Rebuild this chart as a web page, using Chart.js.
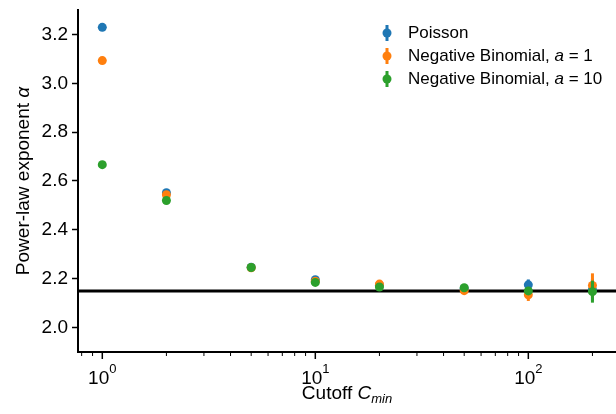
<!DOCTYPE html>
<html>
<head>
<meta charset="utf-8">
<script src="https://cdn.jsdelivr.net/npm/chart.js@4.4.1/dist/chart.umd.min.js"></script>
<style>
  html, body { margin: 0; padding: 0; background: #fff; }
  canvas { display: block; }
</style>
</head>
<body>
<canvas id="chart" width="616" height="414"></canvas>
<script>
// values
const cutoffs = [1, 2, 5, 10, 20, 50, 100, 200];
const poissonAlpha = [3.229, 2.552, 2.247, 2.196, 2.172, 2.160, 2.175, 2.155];
const poissonErr   = [0.004, 0.005, 0.004, 0.005, 0.006, 0.010, 0.022, 0.045];
const nb1Alpha     = [3.093, 2.544, 2.245, 2.190, 2.178, 2.151, 2.134, 2.172];
const nb1Err       = [0.004, 0.005, 0.005, 0.006, 0.007, 0.010, 0.025, 0.050];
const nb10Alpha    = [2.667, 2.520, 2.246, 2.185, 2.166, 2.163, 2.150, 2.147];
const nb10Err      = [0.004, 0.005, 0.005, 0.006, 0.007, 0.015, 0.015, 0.045];
const trueAlpha = 2.15;

const xRange = [0.769, 258];
const yRange = [1.9, 3.3];
const yTicks = [2.0, 2.2, 2.4, 2.6, 2.8, 3.0, 3.2];
const xTicks = [0.8, 0.9, 1, 2, 3, 4, 5, 6, 7, 8, 9, 10, 20, 30, 40, 50, 60, 70, 80, 90, 100, 200];

const seriesNames = ['Poisson', 'Negative Binomial, ', 'Negative Binomial, '];
const seriesParam = [null, '1', '10'];
const colors = ['#1f77b4', '#ff7f0e', '#2ca02c'];

const FONT = '"Liberation Sans", Arial, sans-serif';

function points(ys) {
    return cutoffs.map((x, i) => ({ x: x, y: ys[i] }));
}

function isMajor(v) {
    const l = Math.log10(v);
    return Math.abs(l - Math.round(l)) < 1e-9;
}

const errorBars = {
    id: 'errorBars',
    beforeDatasetDraw(chart, args) {
        const ds = chart.data.datasets[args.index];
        if (!ds.errors) return;
        const ctx = chart.ctx;
        const xs = chart.scales.x, ys = chart.scales.y;
        ctx.save();
        ctx.strokeStyle = ds.backgroundColor;
        ctx.lineWidth = 3;
        ds.data.forEach((p, i) => {
            const px = xs.getPixelForValue(p.x);
            ctx.beginPath();
            ctx.moveTo(px, ys.getPixelForValue(p.y - ds.errors[i]));
            ctx.lineTo(px, ys.getPixelForValue(p.y + ds.errors[i]));
            ctx.stroke();
        });
        ctx.restore();
    }
};

// pieces of text in different styles, drawn one after another
function drawRuns(ctx, runs, x, y) {
    runs.forEach(r => {
        ctx.font = r.font;
        ctx.fillText(r.text, x, y + (r.dy || 0));
        x += ctx.measureText(r.text).width;
    });
}
function runsWidth(ctx, runs) {
    let w = 0;
    runs.forEach(r => { ctx.font = r.font; w += ctx.measureText(r.text).width; });
    return w;
}

const decorations = {
    id: 'decorations',
    afterDraw(chart) {
        const ctx = chart.ctx;
        const area = chart.chartArea;
        const xs = chart.scales.x;
        ctx.save();
        ctx.fillStyle = '#000';
        ctx.strokeStyle = '#000';

        // x ticks: long for decades, short in between
        xs.ticks.forEach(t => {
            const px = xs.getPixelForValue(t.value);
            const major = isMajor(t.value);
            ctx.lineWidth = major ? 1.5 : 1;
            ctx.beginPath();
            ctx.moveTo(px, area.bottom + 1);
            ctx.lineTo(px, area.bottom + (major ? 7 : 4));
            ctx.stroke();
            if (major) {
                const runs = [
                    { text: '10', font: '19px ' + FONT },
                    { text: String(Math.round(Math.log10(t.value))), font: '13px ' + FONT, dy: -11 }
                ];
                ctx.textAlign = 'left';
                ctx.textBaseline = 'alphabetic';
                drawRuns(ctx, runs, px - runsWidth(ctx, runs) / 2, 384);
            }
        });

        // x title
        const xt = [
            { text: 'Cutoff ', font: '19px ' + FONT },
            { text: 'C', font: 'italic 19px ' + FONT },
            { text: 'min', font: 'italic 13px ' + FONT, dy: 4 }
        ];
        ctx.textAlign = 'left';
        ctx.textBaseline = 'alphabetic';
        drawRuns(ctx, xt, (area.left + area.right) / 2 - runsWidth(ctx, xt) / 2, 399);

        // y title
        const yt = [
            { text: 'Power-law exponent ', font: '19px ' + FONT },
            { text: 'α', font: 'italic 19px ' + FONT }
        ];
        ctx.save();
        ctx.translate(29, (area.top + area.bottom) / 2);
        ctx.rotate(-Math.PI / 2);
        drawRuns(ctx, yt, -runsWidth(ctx, yt) / 2, 0);
        ctx.restore();

        // legend
        const lx = 387, ly = 33, step = 23;
        ctx.textBaseline = 'middle';
        colors.forEach((c, i) => {
            const y = ly + i * step;
            ctx.strokeStyle = c;
            ctx.fillStyle = c;
            ctx.lineWidth = 3;
            ctx.beginPath();
            ctx.moveTo(lx, y - 8);
            ctx.lineTo(lx, y + 8);
            ctx.stroke();
            ctx.beginPath();
            ctx.arc(lx, y, 4.5, 0, Math.PI * 2);
            ctx.fill();
            ctx.fillStyle = '#000';
            const runs = [{ text: seriesNames[i], font: '17px ' + FONT }];
            if (seriesParam[i]) {
                runs.push({ text: 'a', font: 'italic 17px ' + FONT });
                runs.push({ text: ' = ' + seriesParam[i], font: '17px ' + FONT });
            }
            drawRuns(ctx, runs, 408, y);
        });
        ctx.restore();
    }
};

function scatterSet(label, ys, errs, color, order) {
    return {
        label: label,
        data: points(ys),
        errors: errs,
        backgroundColor: color,
        borderWidth: 0,
        pointRadius: 4.5,
        pointHoverRadius: 4.5,
        order: order
    };
}

new Chart(document.getElementById('chart'), {
    type: 'scatter',
    data: {
        datasets: [
            {
                type: 'line',
                label: 'true',
                data: [{ x: xRange[0], y: trueAlpha }, { x: xRange[1], y: trueAlpha }],
                borderColor: '#000',
                borderWidth: 3,
                pointRadius: 0,
                showLine: true,
                order: 4
            },
            scatterSet('Poisson', poissonAlpha, poissonErr, colors[0], 3),
            scatterSet('NB a=1', nb1Alpha, nb1Err, colors[1], 2),
            scatterSet('NB a=10', nb10Alpha, nb10Err, colors[2], 1)
        ]
    },
    options: {
        responsive: false,
        animation: false,
        events: [],
        layout: { autoPadding: false, padding: { top: 10, right: 0, left: 0, bottom: 0 } },
        plugins: {
            legend: { display: false },
            tooltip: { enabled: false }
        },
        scales: {
            x: {
                type: 'logarithmic',
                min: xRange[0],
                max: xRange[1],
                afterBuildTicks: s => { s.ticks = xTicks.map(v => ({ value: v, major: isMajor(v) })); },
                afterFit: s => { s.height = 62; },
                ticks: { display: false },
                grid: { display: false },
                border: { display: true, color: '#000', width: 2 }
            },
            y: {
                min: yRange[0],
                max: yRange[1],
                afterBuildTicks: s => { s.ticks = yTicks.map(v => ({ value: v })); },
                afterFit: s => { s.width = 78; s.paddingTop = 0; s.paddingBottom = 0; },
                ticks: {
                    color: '#000',
                    font: { family: FONT, size: 19 },
                    padding: 4,
                    callback: v => v.toFixed(1)
                },
                grid: { drawOnChartArea: false, tickLength: 6, tickWidth: 1.5, tickColor: '#000' },
                border: { display: true, color: '#000', width: 2 }
            }
        }
    },
    plugins: [errorBars, decorations]
});
</script>
</body>
</html>
